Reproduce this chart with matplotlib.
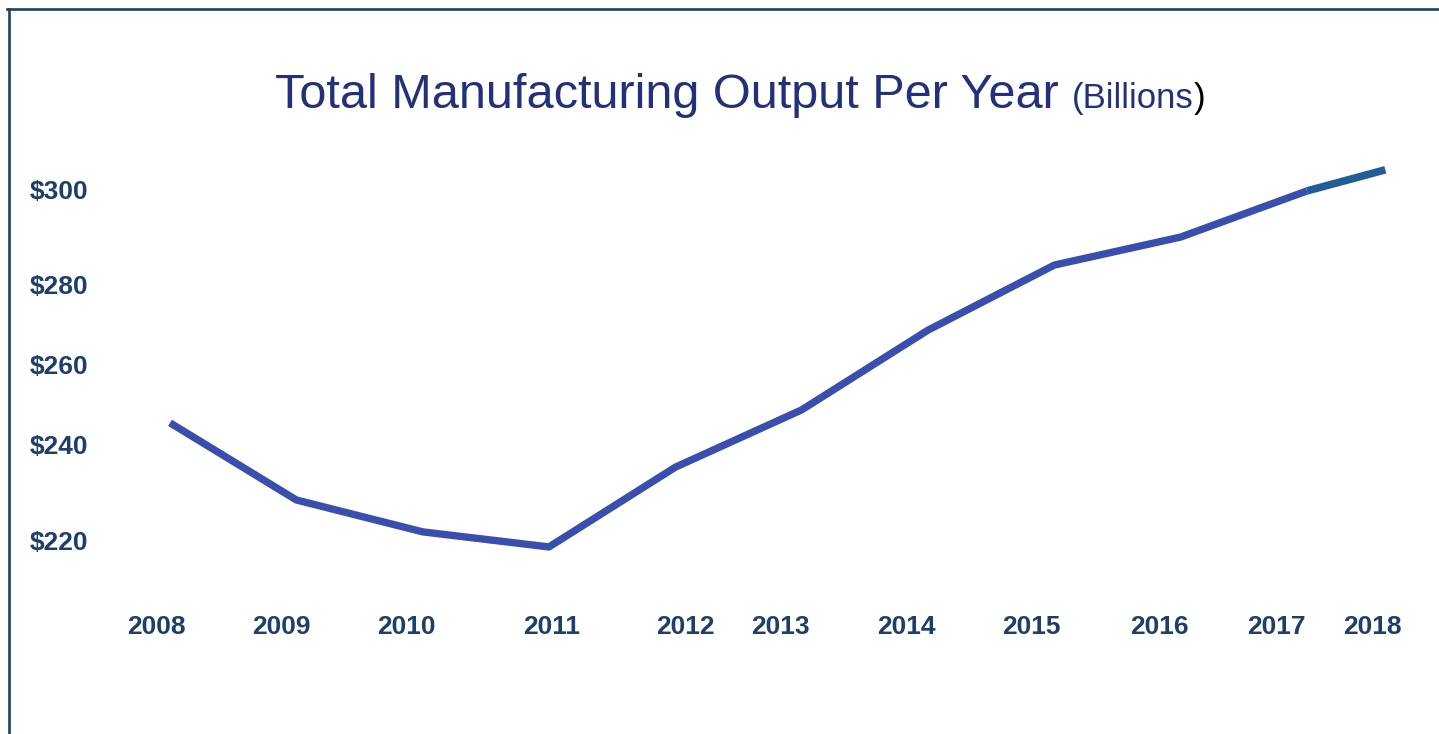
import matplotlib
matplotlib.use("Agg")
import matplotlib.pyplot as plt
from matplotlib.lines import Line2D
from matplotlib.transforms import blended_transform_factory

# ---- data ----
years = [2008, 2009, 2010, 2011, 2012, 2013, 2014, 2015, 2016, 2017]
output = [247.1, 229.2, 221.8, 218.3, 236.8, 250.1, 268.6, 283.7, 290.2, 300.9]
# short projection segment at the end (2017 -> part way toward 2018)
proj_years = [2017, 2017.62]
proj_output = [300.9, 305.8]

x_labels = ["2008", "2009", "2010", "2011", "2012", "2013", "2014", "2015", "2016", "2017", "2018"]
x_label_pos = [2007.89, 2008.88, 2009.87, 2011.02, 2012.08, 2012.83, 2013.83, 2014.82, 2015.83, 2016.76, 2017.52]
y_labels = ["$300", "$280", "$260", "$240", "$220"]
y_label_pos = [300.7, 278.6, 260.05, 241.5, 219.2]

W, H, DPI = 1439, 734, 100
fig = plt.figure(figsize=(W / DPI, H / DPI), dpi=DPI, facecolor="white")
ax = fig.add_axes([0, 0, 1, 1])
ax.set_xlim(2008 - 1.3457, 2008 + 10.045)
ax.set_ylim(174.9, 345.2)
ax.axis("off")

line_col = "#3a4fad"
proj_col = "#235d97"
lab_col = "#1f3f6b"
title_col = "#22317a"

ax.plot(years, output, color=line_col, lw=5.3, solid_capstyle="butt", solid_joinstyle="round")
ax.plot(proj_years, proj_output, color=proj_col, lw=5.5, solid_capstyle="butt")

fam = ["Liberation Sans", "DejaVu Sans"]
# y labels
ty = blended_transform_factory(ax.transAxes, ax.transData)
for v, s in zip(y_label_pos, y_labels):
    ax.text(30 / W, v, s, transform=ty, ha="left", va="center", fontsize=19,
            fontweight="bold", color=lab_col, family=fam)
# x labels
tx = blended_transform_factory(ax.transData, ax.transAxes)
for p, s in zip(x_label_pos, x_labels):
    ax.text(p, 1 - 627 / H, s, transform=tx, ha="center", va="center", fontsize=19,
            fontweight="bold", color=lab_col, family=fam)

# title in pieces
fig.canvas.draw()
r = fig.canvas.get_renderer()
base_y = 1 - 108 / H
t1 = fig.text(275 / W, base_y, "Total Manufacturing Output Per Year ", fontsize=35,
              color=title_col, family=fam, va="baseline", ha="left")
bb = t1.get_window_extent(r)
t2 = fig.text(bb.x1 / W, base_y, "(Billions", fontsize=25, color=title_col, family=fam,
              va="baseline", ha="left")
bb2 = t2.get_window_extent(r)
fig.text(bb2.x1 / W, base_y, ")", fontsize=25, color="black", family=fam,
         va="baseline", ha="left")

# frame lines (top and left)
border = "#1f3f6b"
fig.add_artist(Line2D([7 / W, 1.0], [1 - 9 / H, 1 - 9 / H], transform=fig.transFigure,
                      color=border, lw=1.9))
fig.add_artist(Line2D([9 / W, 9 / W], [1 - 9 / H, 0], transform=fig.transFigure,
                      color=border, lw=1.9))

fig.savefig("out.png", dpi=DPI, facecolor="white")
